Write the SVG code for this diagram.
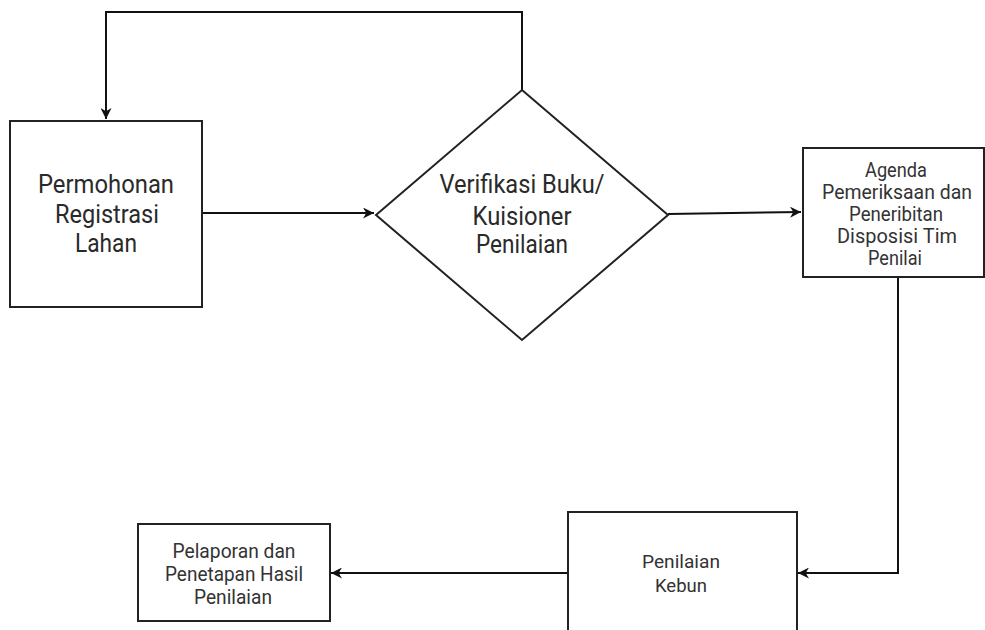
<svg xmlns="http://www.w3.org/2000/svg" width="985" height="630" viewBox="0 0 985 630">
<defs>
<marker id="arr" viewBox="0 0 10 10" refX="10" refY="5" markerWidth="11" markerHeight="11" markerUnits="userSpaceOnUse" orient="auto">
<path d="M0,0 L10,5 L0,10 L3,5 Z" fill="#111"/>
</marker>
</defs>
<style>
.shape{fill:#fff;stroke:#222;stroke-width:2}
.conn{fill:none;stroke:#111;stroke-width:2}
text{font-family:Roboto,"Liberation Sans",sans-serif;text-anchor:middle;fill:#2a2a2a}
.big{font-size:25px}
.mid{font-size:21px;fill:#333}
.sm{font-size:19px;fill:#333}
</style>
<rect width="985" height="630" fill="#fff"/>
<g id="connectors">
<path class="conn" d="M522,90 L522,12 L106,12 L106,119" marker-end="url(#arr)"/>
<path class="conn" d="M202,213 L374,213" marker-end="url(#arr)"/>
<path class="conn" d="M668,214 L801,212" marker-end="url(#arr)"/>
<path class="conn" d="M898,277 L898,573 L798,573" marker-end="url(#arr)"/>
<path class="conn" d="M568,573 L331,573" marker-end="url(#arr)"/>
</g>
<g id="node-permohonan">
<rect class="shape" x="10" y="121" width="192" height="186"/>
<text class="big" x="106" y="193" textLength="136" lengthAdjust="spacingAndGlyphs">Permohonan</text>
<text class="big" x="107" y="223" textLength="104" lengthAdjust="spacingAndGlyphs">Registrasi</text>
<text class="big" x="106" y="252" textLength="62" lengthAdjust="spacingAndGlyphs">Lahan</text>
</g>
<g id="node-verifikasi">
<polygon class="shape" points="522,90 668,215 522,340 376,215"/>
<text class="big" x="522" y="193" textLength="165" lengthAdjust="spacingAndGlyphs">Verifikasi Buku/</text>
<text class="big" x="522" y="225" textLength="99" lengthAdjust="spacingAndGlyphs">Kuisioner</text>
<text class="big" x="522" y="253" textLength="92" lengthAdjust="spacingAndGlyphs">Penilaian</text>
</g>
<g id="node-agenda">
<rect class="shape" x="803" y="148" width="181" height="129"/>
<text class="mid" x="896" y="177" textLength="62" lengthAdjust="spacingAndGlyphs">Agenda</text>
<text class="mid" x="897" y="199" textLength="150" lengthAdjust="spacingAndGlyphs">Pemeriksaan dan</text>
<text class="mid" x="896" y="221" textLength="94" lengthAdjust="spacingAndGlyphs">Peneribitan</text>
<text class="mid" x="897" y="243" textLength="120" lengthAdjust="spacingAndGlyphs">Disposisi Tim</text>
<text class="mid" x="895" y="265" textLength="54" lengthAdjust="spacingAndGlyphs">Penilai</text>
</g>
<g id="node-penilaian-kebun">
<rect class="shape" x="568" y="512" width="229" height="130"/>
<text class="sm" x="681" y="568" textLength="78" lengthAdjust="spacingAndGlyphs">Penilaian</text>
<text class="sm" x="681" y="592" textLength="52" lengthAdjust="spacingAndGlyphs">Kebun</text>
</g>
<g id="node-pelaporan">
<rect class="shape" x="138" y="524" width="192" height="97"/>
<text class="mid" x="234" y="558" textLength="123" lengthAdjust="spacingAndGlyphs">Pelaporan dan</text>
<text class="mid" x="234" y="581" textLength="138" lengthAdjust="spacingAndGlyphs">Penetapan Hasil</text>
<text class="mid" x="233" y="604" textLength="78" lengthAdjust="spacingAndGlyphs">Penilaian</text>
</g>
</svg>
